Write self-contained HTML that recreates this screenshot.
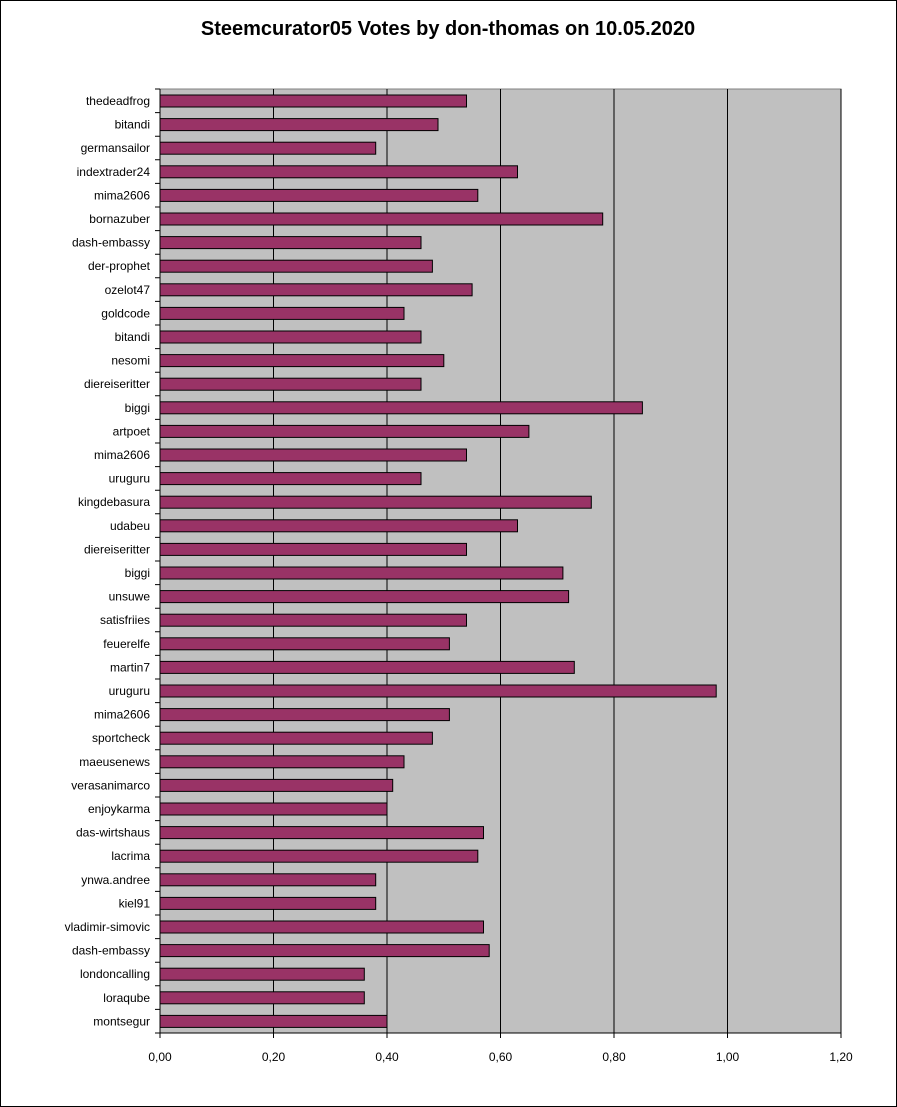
<!DOCTYPE html>
<html><head><meta charset="utf-8"><style>
body{margin:0;background:#fff}
svg{display:block;font-family:"Liberation Sans",Arial,sans-serif}
</style></head><body>
<svg width="897" height="1107" xmlns="http://www.w3.org/2000/svg">
<rect x="0.5" y="0.5" width="896" height="1106" fill="#fff" stroke="#000"/>
<text x="448" y="35" text-anchor="middle" font-size="20" font-weight="bold">Steemcurator05 Votes  by don-thomas on 10.05.2020</text>
<rect x="160" y="89" width="681" height="944" fill="#c0c0c0" stroke="#808080"/>
<g stroke="#000" stroke-width="1">
<line x1="273.5" y1="89" x2="273.5" y2="1033"/><line x1="387" y1="89" x2="387" y2="1033"/><line x1="500.5" y1="89" x2="500.5" y2="1033"/><line x1="614" y1="89" x2="614" y2="1033"/><line x1="727.5" y1="89" x2="727.5" y2="1033"/><line x1="841" y1="89" x2="841" y2="1033"/>
</g>
<g fill="#993366" stroke="#000" stroke-width="1">
<rect x="160" y="95" width="306.5" height="12"/>
<rect x="160" y="118.6" width="278" height="12"/>
<rect x="160" y="142.2" width="215.7" height="12"/>
<rect x="160" y="165.8" width="357.5" height="12"/>
<rect x="160" y="189.4" width="317.8" height="12"/>
<rect x="160" y="213" width="442.7" height="12"/>
<rect x="160" y="236.6" width="261" height="12"/>
<rect x="160" y="260.2" width="272.4" height="12"/>
<rect x="160" y="283.8" width="312.1" height="12"/>
<rect x="160" y="307.4" width="244" height="12"/>
<rect x="160" y="331" width="261" height="12"/>
<rect x="160" y="354.6" width="283.8" height="12"/>
<rect x="160" y="378.2" width="261" height="12"/>
<rect x="160" y="401.8" width="482.4" height="12"/>
<rect x="160" y="425.4" width="368.9" height="12"/>
<rect x="160" y="449" width="306.5" height="12"/>
<rect x="160" y="472.6" width="261" height="12"/>
<rect x="160" y="496.2" width="431.3" height="12"/>
<rect x="160" y="519.8" width="357.5" height="12"/>
<rect x="160" y="543.4" width="306.5" height="12"/>
<rect x="160" y="567" width="402.9" height="12"/>
<rect x="160" y="590.6" width="408.6" height="12"/>
<rect x="160" y="614.2" width="306.5" height="12"/>
<rect x="160" y="637.8" width="289.4" height="12"/>
<rect x="160" y="661.4" width="414.3" height="12"/>
<rect x="160" y="685" width="556.2" height="12"/>
<rect x="160" y="708.6" width="289.4" height="12"/>
<rect x="160" y="732.2" width="272.4" height="12"/>
<rect x="160" y="755.8" width="244" height="12"/>
<rect x="160" y="779.4" width="232.7" height="12"/>
<rect x="160" y="803" width="227" height="12"/>
<rect x="160" y="826.6" width="323.5" height="12"/>
<rect x="160" y="850.2" width="317.8" height="12"/>
<rect x="160" y="873.8" width="215.7" height="12"/>
<rect x="160" y="897.4" width="215.7" height="12"/>
<rect x="160" y="921" width="323.5" height="12"/>
<rect x="160" y="944.6" width="329.2" height="12"/>
<rect x="160" y="968.2" width="204.3" height="12"/>
<rect x="160" y="991.8" width="204.3" height="12"/>
<rect x="160" y="1015.4" width="227" height="12"/>
</g>
<g stroke="#000">
<line x1="160" y1="89" x2="160" y2="1033"/>
<line x1="160" y1="1033" x2="841" y2="1033"/>
<path d="M155 89H160M155 112.6H160M155 136.2H160M155 159.8H160M155 183.4H160M155 207H160M155 230.6H160M155 254.2H160M155 277.8H160M155 301.4H160M155 325H160M155 348.6H160M155 372.2H160M155 395.8H160M155 419.4H160M155 443H160M155 466.6H160M155 490.2H160M155 513.8H160M155 537.4H160M155 561H160M155 584.6H160M155 608.2H160M155 631.8H160M155 655.4H160M155 679H160M155 702.6H160M155 726.2H160M155 749.8H160M155 773.4H160M155 797H160M155 820.6H160M155 844.2H160M155 867.8H160M155 891.4H160M155 915H160M155 938.6H160M155 962.2H160M155 985.8H160M155 1009.4H160M155 1033H160"/>
<path d="M160 1033V1038M273.5 1033V1038M387 1033V1038M500.5 1033V1038M614 1033V1038M727.5 1033V1038M841 1033V1038"/>
</g>
<g font-size="12" text-anchor="end">
<text x="150" y="105">thedeadfrog</text>
<text x="150" y="128.6">bitandi</text>
<text x="150" y="152.2">germansailor</text>
<text x="150" y="175.8">indextrader24</text>
<text x="150" y="199.4">mima2606</text>
<text x="150" y="223">bornazuber</text>
<text x="150" y="246.6">dash-embassy</text>
<text x="150" y="270.2">der-prophet</text>
<text x="150" y="293.8">ozelot47</text>
<text x="150" y="317.4">goldcode</text>
<text x="150" y="341">bitandi</text>
<text x="150" y="364.6">nesomi</text>
<text x="150" y="388.2">diereiseritter</text>
<text x="150" y="411.8">biggi</text>
<text x="150" y="435.4">artpoet</text>
<text x="150" y="459">mima2606</text>
<text x="150" y="482.6">uruguru</text>
<text x="150" y="506.2">kingdebasura</text>
<text x="150" y="529.8">udabeu</text>
<text x="150" y="553.4">diereiseritter</text>
<text x="150" y="577">biggi</text>
<text x="150" y="600.6">unsuwe</text>
<text x="150" y="624.2">satisfriies</text>
<text x="150" y="647.8">feuerelfe</text>
<text x="150" y="671.4">martin7</text>
<text x="150" y="695">uruguru</text>
<text x="150" y="718.6">mima2606</text>
<text x="150" y="742.2">sportcheck</text>
<text x="150" y="765.8">maeusenews</text>
<text x="150" y="789.4">verasanimarco</text>
<text x="150" y="813">enjoykarma</text>
<text x="150" y="836.6">das-wirtshaus</text>
<text x="150" y="860.2">lacrima</text>
<text x="150" y="883.8">ynwa.andree</text>
<text x="150" y="907.4">kiel91</text>
<text x="150" y="931">vladimir-simovic</text>
<text x="150" y="954.6">dash-embassy</text>
<text x="150" y="978.2">londoncalling</text>
<text x="150" y="1001.8">loraqube</text>
<text x="150" y="1025.4">montsegur</text>
</g>
<g font-size="12" text-anchor="middle">
<text x="160" y="1061">0,00</text><text x="273.5" y="1061">0,20</text><text x="387" y="1061">0,40</text><text x="500.5" y="1061">0,60</text><text x="614" y="1061">0,80</text><text x="727.5" y="1061">1,00</text><text x="841" y="1061">1,20</text>
</g>
</svg>
</body></html>
